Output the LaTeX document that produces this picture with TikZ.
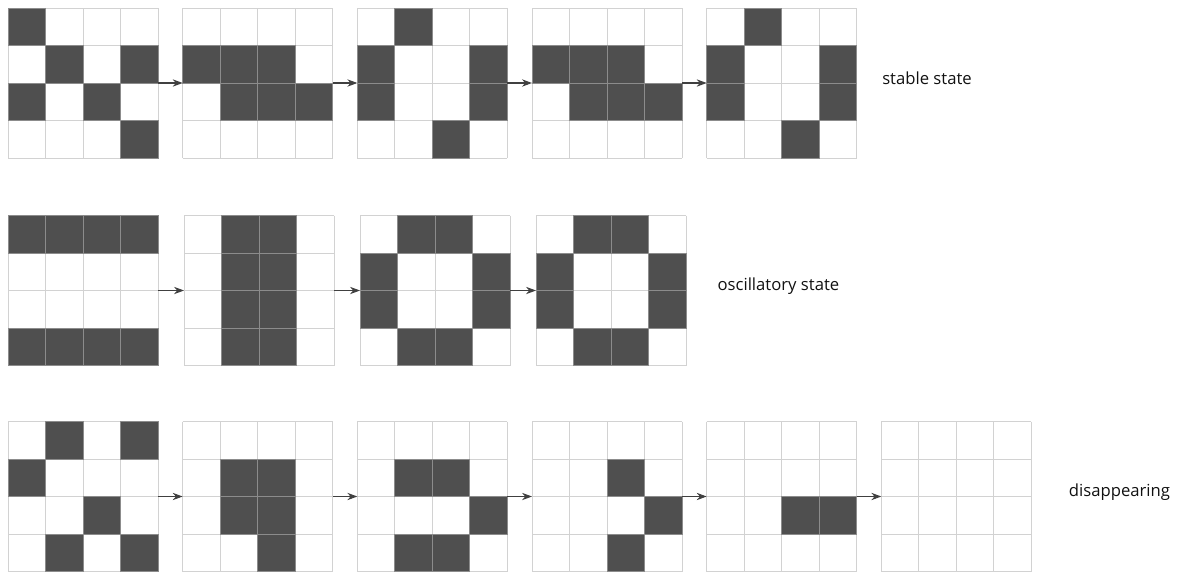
\documentclass[tikz,border=0pt]{standalone}
\usepackage{fontspec}
\setmainfont{Open Sans}
\usetikzlibrary{arrows.meta,positioning}
\definecolor{Alive}{HTML}{4F4F4F}
\definecolor{AliveEdge}{HTML}{8C8C8C}
\definecolor{GridLine}{HTML}{D2D2D2}
\definecolor{Ink}{HTML}{404040}
\definecolor{Caption}{HTML}{111111}
\tikzset{
  board/.style={minimum size=112.5pt,inner sep=0pt,outer sep=0pt,fill=white},
  gridline/.style={draw=GridLine,line width=0.75pt},
  alive/.style={fill=Alive,draw=AliveEdge,line width=0.75pt},
  arrow/.style={-{Stealth[length=7.5pt,width=5.5pt]},line width=0.8pt,draw=Ink},
  statetext/.style={inner sep=0pt,anchor=west,text=Caption,font=\fontsize{12.5}{14}\selectfont}
}
% grid lines of one board, then its live cells (row/column, 0 = top left)
\newcommand{\boardlines}[1]{%
  \begin{scope}[shift={(#1.north west)}]
    \foreach \k in {0,...,4} {
      \draw[gridline] (\k*37.5,0) -- (\k*37.5,150);
      \draw[gridline] (0,\k*37.5) -- (150,\k*37.5);
    }
  \end{scope}}
\newcommand{\livecells}[2]{%
  \begin{scope}[shift={(#1.north west)}]
    \foreach \r/\c in {#2}
      \filldraw[alive] (\c*37.5,\r*37.5) rectangle ++(37.5,37.5);
  \end{scope}}
\begin{document}
\begin{tikzpicture}[x=0.75pt,y=-0.75pt,node distance=18.5pt]
  \useasboundingbox (0,0) rectangle (1184,572);

  % stable state
  \node[board,anchor=north west] (s1) at (8,8) {};
  \node[board,right=of s1] (s2) {};
  \node[board,right=of s2] (s3) {};
  \node[board,right=of s3] (s4) {};
  \node[board,right=of s4] (s5) {};
  \foreach \n in {s1,s2,s3,s4,s5} {\boardlines{\n}}
  \livecells{s1}{0/0,1/1,1/3,2/0,2/2,3/3}
  \livecells{s2}{1/0,1/1,1/2,2/1,2/2,2/3}
  \livecells{s3}{0/1,1/0,1/3,2/0,2/3,3/2}
  \livecells{s4}{1/0,1/1,1/2,2/1,2/2,2/3}
  \livecells{s5}{0/1,1/0,1/3,2/0,2/3,3/2}
  \draw[arrow] (s1) -- (s2);
  \draw[arrow] (s2) -- (s3);
  \draw[arrow] (s3) -- (s4);
  \draw[arrow] (s4) -- (s5);
  \node[statetext,right=19pt of s5,yshift=3.75pt] (stable) {stable state};

  % oscillatory state
  \node[board,anchor=north west] (o1) at (8,215.5) {};
  \node[board,right=19.5pt of o1] (o2) {};
  \node[board,right=19.5pt of o2] (o3) {};
  \node[board,right=19.5pt of o3] (o4) {};
  \foreach \n in {o1,o2,o3,o4} {\boardlines{\n}}
  \livecells{o1}{0/0,0/1,0/2,0/3,3/0,3/1,3/2,3/3}
  \livecells{o2}{0/1,0/2,1/1,1/2,2/1,2/2,3/1,3/2}
  \livecells{o3}{0/1,0/2,1/0,1/3,2/0,2/3,3/1,3/2}
  \livecells{o4}{0/1,0/2,1/0,1/3,2/0,2/3,3/1,3/2}
  \draw[arrow] (o1) -- (o2);
  \draw[arrow] (o2) -- (o3);
  \draw[arrow] (o3) -- (o4);
  \node[statetext,right=23.5pt of o4,yshift=3pt] (oscillatory) {oscillatory state};

  % disappearing
  \node[board,anchor=north west] (d1) at (8,421.5) {};
  \node[board,right=of d1] (d2) {};
  \node[board,right=of d2] (d3) {};
  \node[board,right=of d3] (d4) {};
  \node[board,right=of d4] (d5) {};
  \node[board,right=of d5] (d6) {};
  \foreach \n in {d1,d2,d3,d4,d5,d6} {\boardlines{\n}}
  \livecells{d1}{0/1,0/3,1/0,2/2,3/1,3/3}
  \livecells{d2}{1/1,1/2,2/1,2/2,3/2}
  \livecells{d3}{1/1,1/2,2/3,3/1,3/2}
  \livecells{d4}{1/2,2/3,3/2}
  \livecells{d5}{2/2,2/3}
  \draw[arrow] (d1) -- (d2);
  \draw[arrow] (d2) -- (d3);
  \draw[arrow] (d3) -- (d4);
  \draw[arrow] (d4) -- (d5);
  \draw[arrow] (d5) -- (d6);
  \node[statetext,right=28pt of d6,yshift=3pt] (disappearing) {disappearing};
\end{tikzpicture}
\end{document}
